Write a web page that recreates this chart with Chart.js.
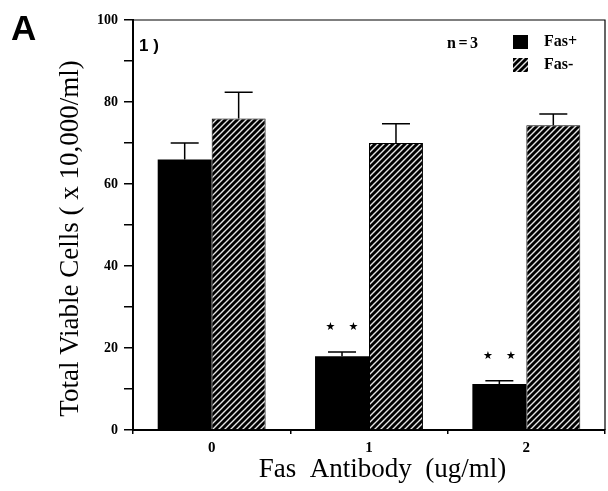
<!DOCTYPE html>
<html>
<head>
<meta charset="utf-8">
<script src="https://cdn.jsdelivr.net/npm/chart.js@4.4.1/dist/chart.umd.min.js"></script>
<style>
  html, body { margin: 0; padding: 0; background: #fff; }
  #wrap { width: 608px; height: 491px; }
</style>
</head>
<body>
<div id="wrap"><canvas id="c" width="608" height="491"></canvas></div>
<script>
// ---- data ----
const categories = ['0', '1', '2'];
const seriesNames = ['Fas+', 'Fas-'];
const fasPlus = [66, 18, 11.2];
const fasMinus = [76, 70, 74.3];
const fasPlusErrTop = [70, 19, 12];
const fasMinusErrTop = [82.4, 74.7, 77.1];
const starLevels = [null, 25, 18];       // "* *" significance marks over Fas+ bars
const yLabelledTicks = [0, 20, 40, 60, 80, 100];
const panelLetter = 'A';
const panelTag = '1 )';
const sampleNote = 'n=3';

// ---- hatch pattern for Fas- ----
function makeHatch() {
  const s = 6;
  const pc = document.createElement('canvas');
  pc.width = s; pc.height = s;
  const p = pc.getContext('2d');
  p.fillStyle = '#000';
  p.fillRect(0, 0, s, s);
  p.strokeStyle = 'rgba(255,255,255,0.9)';
  p.lineWidth = 1.4;
  p.beginPath();
  p.moveTo(-1, s + 1); p.lineTo(s + 1, -1);
  p.moveTo(-1, 1); p.lineTo(1, -1);
  p.moveTo(s - 1, s + 1); p.lineTo(s + 1, s - 1);
  p.stroke();
  return document.getElementById('c').getContext('2d').createPattern(pc, 'repeat');
}
const hatch = makeHatch();

const serif = "'Liberation Serif', 'Times New Roman', serif";
const sans = "'Liberation Sans', Arial, sans-serif";

const extras = {
  id: 'extras',
  afterDatasetsDraw(chart) {
    const ctx = chart.ctx;
    const y = chart.scales.y;
    const errs = [fasPlusErrTop, fasMinusErrTop];
    ctx.save();
    ctx.strokeStyle = '#000';
    ctx.lineWidth = 1.5;
    errs.forEach((arr, di) => {
      const meta = chart.getDatasetMeta(di);
      meta.data.forEach((bar, i) => {
        const yt = y.getPixelForValue(arr[i]);
        const yb = bar.y;
        ctx.beginPath();
        ctx.moveTo(bar.x, yb);
        ctx.lineTo(bar.x, yt);
        ctx.moveTo(bar.x - 14, yt);
        ctx.lineTo(bar.x + 14, yt);
        ctx.stroke();
      });
    });
    // stars
    const meta0 = chart.getDatasetMeta(0);
    ctx.fillStyle = '#000';
    ctx.font = "11px 'DejaVu Sans'";
    ctx.textAlign = 'center';
    ctx.textBaseline = 'middle';
    starLevels.forEach((lv, i) => {
      if (lv == null) return;
      const bx = meta0.data[i].x;
      const py = y.getPixelForValue(lv);
      ctx.fillText('\u2605', bx - 11.5, py);
      ctx.fillText('\u2605', bx + 11.5, py);
    });
    ctx.restore();
  },
  afterDraw(chart) {
    const ctx = chart.ctx;
    const a = chart.chartArea;
    ctx.save();
    // frame top and right
    ctx.strokeStyle = '#000';
    ctx.lineWidth = 1.2;
    ctx.beginPath();
    ctx.moveTo(a.left, a.top);
    ctx.lineTo(a.right, a.top);
    ctx.lineTo(a.right, a.bottom);
    ctx.stroke();
    // panel letter
    ctx.fillStyle = '#000';
    ctx.textBaseline = 'alphabetic';
    ctx.textAlign = 'left';
    ctx.font = "bold 35px " + sans;
    ctx.fillText(panelLetter, 11, 40);
    ctx.font = "bold 17px " + sans;
    ctx.fillText(panelTag, a.left + 6, 51);
    ctx.font = "bold 16px " + serif;
    try { ctx.letterSpacing = '2.5px'; } catch (e) {}
    ctx.fillText(sampleNote, 447, 48);
    try { ctx.letterSpacing = '0px'; } catch (e) {}
    // legend
    chart.data.datasets.forEach((ds, i) => {
      const yy = 35 + i * 23;
      ctx.fillStyle = ds.backgroundColor;
      ctx.fillRect(513, yy, 15, 14);
      ctx.fillStyle = '#000';
      ctx.font = "bold 16px " + serif;
      ctx.textBaseline = 'middle';
      ctx.fillText(ds.label, 544, yy + 7);
    });
    ctx.restore();
  }
};

new Chart(document.getElementById('c'), {
  type: 'bar',
  data: {
    labels: categories,
    datasets: [
      { label: seriesNames[0], data: fasPlus, backgroundColor: '#000',
        categoryPercentage: 0.686, barPercentage: 1.0 },
      { label: seriesNames[1], data: fasMinus, backgroundColor: hatch,
        borderColor: '#000', borderWidth: 1,
        categoryPercentage: 0.686, barPercentage: 1.0 }
    ]
  },
  options: {
    responsive: false,
    animation: false,
    devicePixelRatio: 1,
    layout: { padding: { top: 20, right: 3, left: 0, bottom: 0 } },
    plugins: { legend: { display: false }, tooltip: { enabled: false } },
    scales: {
      x: {
        grid: { display: true, drawOnChartArea: false, color: '#000', tickLength: 4, lineWidth: 1.5 },
        border: { color: '#000', width: 2 },
        ticks: { color: '#000', font: { family: serif, size: 15, weight: 'bold' }, padding: 5 },
        title: { display: true, text: '    Fas  Antibody  (ug/ml)', color: '#000',
                 font: { family: serif, size: 27 }, padding: { top: 0, bottom: 5 } },
        afterFit(s) { s.height = 61; }
      },
      y: {
        min: 0, max: 100,
        grid: { display: true, drawOnChartArea: false, color: '#000', tickLength: 9, lineWidth: 1.5 },
        border: { color: '#000', width: 2 },
        ticks: { stepSize: 10, color: '#000', padding: 6,
                 font: { family: serif, size: 14, weight: 'bold' },
                 callback: v => yLabelledTicks.includes(v) ? String(v) : '' },
        title: { display: true, text: 'Total Viable Cells ( x 10,000/ml)    ', color: '#000',
                 font: { family: serif, size: 27 }, padding: { top: 55, bottom: 0 } },
        afterFit(s) { s.width = 133; }
      }
    }
  },
  plugins: [extras]
});
</script>
</body>
</html>
